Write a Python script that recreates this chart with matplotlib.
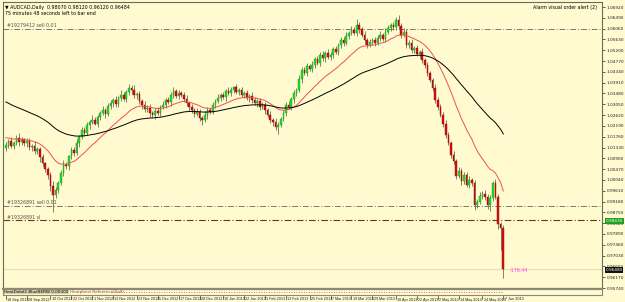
import numpy as np
import matplotlib.pyplot as plt

# AUDCAD daily closes
closes = [
    1.0144, 1.0160, 1.0138, 1.0152, 1.0171, 1.0155, 1.0166, 1.0149, 1.0158, 1.0135,
    1.0141, 1.0118, 1.0126, 1.0095, 1.0070, 1.0048, 1.0025, 0.9978, 0.9946, 0.9962,
    0.9990, 1.0032, 1.0065, 1.0058, 1.0098, 1.0124, 1.0112, 1.0150, 1.0176, 1.0204,
    1.0190, 1.0222, 1.0236, 1.0244, 1.0228, 1.0255, 1.0270, 1.0283, 1.0266, 1.0298,
    1.0311, 1.0323, 1.0305, 1.0330, 1.0343, 1.0328, 1.0352, 1.0371, 1.0363, 1.0340,
    1.0346, 1.0318, 1.0303, 1.0285, 1.0292, 1.0270, 1.0264, 1.0280, 1.0271, 1.0295,
    1.0303, 1.0322, 1.0314, 1.0343, 1.0356, 1.0338, 1.0350, 1.0343, 1.0327, 1.0309,
    1.0296, 1.0283, 1.0268, 1.0275, 1.0252, 1.0244, 1.0261, 1.0284, 1.0276, 1.0303,
    1.0318, 1.0330, 1.0343, 1.0335, 1.0358, 1.0349, 1.0363, 1.0372, 1.0355, 1.0361,
    1.0343, 1.0350, 1.0331, 1.0338, 1.0323, 1.0310, 1.0318, 1.0296, 1.0303, 1.0281,
    1.0262, 1.0244, 1.0236, 1.0215, 1.0224, 1.0248, 1.0271, 1.0303, 1.0296, 1.0325,
    1.0348, 1.0363, 1.0405, 1.0442, 1.0431, 1.0458, 1.0447, 1.0462, 1.0484, 1.0471,
    1.0502, 1.0489, 1.0511, 1.0494, 1.0502, 1.0523, 1.0515, 1.0540, 1.0561, 1.0548,
    1.0577, 1.0590, 1.0601, 1.0588, 1.0621, 1.0603, 1.0581, 1.0560, 1.0541, 1.0553,
    1.0561, 1.0549, 1.0570, 1.0581, 1.0566, 1.0592, 1.0608, 1.0621, 1.0612, 1.0641,
    1.0615, 1.0581, 1.0594, 1.0541, 1.0550, 1.0521, 1.0530, 1.0505, 1.0512, 1.0482,
    1.0461, 1.0428, 1.0402, 1.0371, 1.0323, 1.0296, 1.0264, 1.0228, 1.0184, 1.0151,
    1.0105, 1.0078, 1.0020, 1.0041, 0.9998, 1.0024, 0.9985, 1.0005, 0.9990, 0.9906,
    0.9918, 0.9942, 0.9950, 0.9936, 0.9905, 0.9934, 0.9993, 0.9938, 0.9827, 0.9812,
    0.9648,
]
first_open = 1.0130
# wick lengths in pips above / below the body
wick_up = [
    12, 8, 15, 6, 10, 18, 9, 5, 14, 11, 7, 16, 10, 8, 13, 6, 9, 12, 20, 14,
    8, 11, 17, 9, 6, 13, 10, 15, 7, 12, 9, 14, 6, 18, 11, 8, 10, 16, 7, 13,
    12, 9, 15, 6, 20, 11, 8, 14, 10, 17, 9, 12, 7, 15, 10, 13, 8, 11, 16, 9,
    14, 7, 12, 10, 18, 9, 13, 8, 11, 15, 6, 12, 9, 14, 10, 8, 16, 11, 7, 13,
    10, 15, 8, 12, 9, 17, 11, 6, 14, 10, 13, 8, 12, 9, 15, 11, 7, 14, 10, 12,
    9, 16, 8, 13, 11, 7, 12, 10, 15, 9, 14, 8, 18, 11, 10, 13, 7, 16, 9, 12,
    10, 14, 8, 15, 11, 9, 13, 7, 12, 10, 16, 8, 14, 11, 22, 12, 9, 15, 10, 13,
    8, 12, 10, 14, 9, 16, 11, 8, 13, 10, 18, 12, 15, 9, 11, 14, 8, 12, 10, 16,
    9, 13, 11, 8, 15, 10, 12, 9, 14, 11, 8, 13, 10, 16, 9, 12, 11, 15, 8, 14,
    10, 12, 9, 13, 11, 10, 8, 14, 12, 9, 11,
]
wick_dn = [
    10, 14, 7, 12, 9, 16, 11, 8, 13, 10, 15, 9, 12, 18, 10, 14, 16, 20, 68, 12,
    10, 8, 14, 11, 16, 9, 12, 7, 13, 10, 12, 8, 15, 10, 7, 13, 11, 9, 14, 8,
    11, 15, 9, 12, 10, 8, 14, 11, 16, 9, 13, 10, 18, 12, 9, 14, 11, 16, 8, 12,
    10, 13, 9, 15, 11, 8, 12, 10, 14, 9, 16, 11, 13, 8, 12, 22, 10, 14, 9, 11,
    13, 8, 12, 10, 15, 9, 11, 14, 8, 12, 10, 13, 9, 16, 11, 8, 14, 12, 10, 13,
    9, 15, 18, 12, 30, 11, 8, 14, 10, 12, 13, 9, 11, 15, 10, 12, 8, 14, 11, 9,
    12, 10, 15, 8, 13, 11, 9, 14, 10, 12, 8, 13, 11, 9, 12, 16, 10, 14, 12, 9,
    11, 13, 8, 12, 10, 15, 9, 11, 13, 10, 12, 14, 9, 13, 11, 10, 12, 8, 14, 11,
    10, 12, 9, 14, 11, 13, 10, 15, 12, 9, 14, 11, 13, 10, 16, 12, 11, 14, 10, 20,
    12, 10, 13, 11, 15, 25, 12, 10, 18, 85, 36,
]

date_labels = ["18 Sep 2012", "28 Sep 2012", "10 Oct 2012", "22 Oct 2012", "1 Nov 2012",
               "13 Nov 2012", "23 Nov 2012", "5 Dec 2012", "17 Dec 2012", "28 Dec 2012",
               "10 Jan 2013", "22 Jan 2013", "1 Feb 2013", "13 Feb 2013", "25 Feb 2013",
               "7 Mar 2013", "19 Mar 2013", "29 Mar 2013", "10 Apr 2013", "22 Apr 2013",
               "2 May 2013", "14 May 2013", "24 May 2013", "7 Jun 2013"]
price_ticks = [1.0692, 1.0649, 1.0606, 1.0563, 1.0520, 1.0477, 1.0434, 1.0391, 1.0348,
               1.0305, 1.0262, 1.0219, 1.0176, 1.0133, 1.0090, 1.0047, 1.0004, 0.9961,
               0.9918, 0.9875, 0.9832, 0.9789, 0.9746, 0.9703, 0.9660, 0.9617, 0.9574]
order_sell1 = 1.0605
order_sell2 = 0.9902
order_sl = 0.9843
bid = 0.9648
profit_text = "-176.44"

closes = np.array(closes)
opens = np.concatenate([[first_open], closes[:-1]])
highs = np.maximum(opens, closes) + np.array(wick_up) * 0.0001
lows = np.minimum(opens, closes) - np.array(wick_dn) * 0.0001
n = len(closes)
x = np.arange(n)


def ema(vals, period, seed):
    k = 2.0 / (period + 1)
    out, e = [], seed
    for v in vals:
        e = e + k * (v - e)
        out.append(e)
    return np.array(out)


ma_fast = ema(closes, 20, 1.0175)
ma_slow = ema(closes, 60, 1.0320)

BG = '#fffad0'
W, H = 625, 302
Y0, Y1 = 0.95765, 1.0712
NARROW = ['Liberation Sans Narrow', 'Liberation Sans', 'DejaVu Sans']
fig = plt.figure(figsize=(W / 100, H / 100), dpi=100)
fig.patch.set_facecolor(BG)

ax = fig.add_axes([3 / W, 1 - 288 / H, 599 / W, 286 / H])
ax.set_facecolor(BG)
ax.set_xlim(-1.1, 227.7)
ax.set_ylim(Y0, Y1)

bull = closes >= opens
ax.vlines(x, lows, highs, color='#6e6e5a', lw=0.6, zorder=2)
ax.bar(x[bull], (closes - opens)[bull], bottom=opens[bull], width=0.62,
       color='#22e022', edgecolor='#169916', lw=0.3, zorder=3)
ax.bar(x[~bull], (opens - closes)[~bull], bottom=closes[~bull], width=0.62,
       color='#e01010', edgecolor='#8a0000', lw=0.3, zorder=3)

ax.plot(x, ma_fast, color='#f05050', lw=0.7, zorder=4)
ax.plot(x, ma_slow, color='#000000', lw=0.7, zorder=4)

ax.axhline(order_sell1, color='#7a7a70', lw=0.7, ls=(0, (6, 2, 1, 2)), zorder=1)
ax.axhline(order_sell2, color='#7a7a70', lw=0.7, ls=(0, (6, 2, 1, 2)), zorder=1)
ax.axhline(order_sl, color='#6b3a10', lw=0.8, ls=(0, (6, 2, 1, 2)), zorder=1)
ax.axhline(bid, color='#e8dcc0', lw=0.8, zorder=1)

fs = 3.4
ax.text(0.5, order_sell1 + 0.0007, "#19279412 sell 0.01", fontsize=fs, color='#555555')
ax.text(0.5, order_sell2 + 0.0007, "#19326891 sell 0.01", fontsize=fs, color='#555555')
ax.text(0.5, order_sl + 0.0007, "#19326891 sl", fontsize=fs, color='#555555')
ax.text(n + 1.5, bid - 0.0004, profit_text, fontsize=fs, color='#ff40ff', va='center')

ax.yaxis.tick_right()
ax.set_yticks(price_ticks)
ax.set_yticklabels([f"{p:.5f}" for p in price_ticks], fontsize=3.1)
ax.tick_params(axis='y', length=2, width=0.5, pad=1.5, colors='#222222')
ax.set_xticks([])
for s in ax.spines.values():
    s.set_color('#6b6b5a')
    s.set_linewidth(0.8)

# price boxes on the right scale
for val, col in [(order_sl, '#20a020'), (bid, '#111111')]:
    ax.text(1.006, (val - Y0) / (Y1 - Y0), f"{val:.5f}", transform=ax.transAxes,
            fontsize=3.1, color='white', va='center', ha='left',
            bbox=dict(boxstyle='square,pad=0.15', fc=col, ec='none'))

ax.text(0.004, 0.99, "\u25bc AUDCAD,Daily  0.98070 0.98120 0.96120 0.96484", transform=ax.transAxes,
        fontsize=fs, va='top')
ax.text(0.004, 0.968, "75 minutes 48 seconds left to bar end", transform=ax.transAxes,
        fontsize=fs, va='top')
ax.text(0.992, 0.99, "Alarm visual order alert (2)", transform=ax.transAxes,
        fontsize=fs, va='top', ha='right')

# thin indicator sub-window
sub = fig.add_axes([3 / W, 1 - 295 / H, 599 / W, 6 / H])
sub.set_facecolor(BG)
sub.set_xlim(ax.get_xlim())
sub.set_ylim(0, 1)
sub.plot(x[40:], np.full(n - 40, 0.5), color='#e04040', lw=0.6, ls=(0, (1, 2)))
sub.set_xticks([])
sub.set_yticks([])
for s in sub.spines.values():
    s.set_color('#8a8a78')
    s.set_linewidth(0.8)
sub.spines['top'].set_linewidth(1.6)
sub.text(0.002, 0.5, "HeatDebit1 BlueNERW 0.00300", transform=sub.transAxes,
         fontsize=3.0, va='center', color='#000000',
         bbox=dict(boxstyle='square,pad=0.1', fc='#d8d0a0', ec='none'))
sub.text(0.112, 0.5, "Heatpbest Reference(Sell)", transform=sub.transAxes,
         fontsize=3.0, va='center', color='#a04040')

# date scale
label_pos = [round(k * (n - 1) / (len(date_labels) - 1)) for k in range(len(date_labels))]
for pos, lab in zip(label_pos, date_labels):
    xf = ax.transData.transform((pos, 0))[0] / fig.bbox.width
    fig.text(xf + 0.002, 1 - 299.5 / H, lab, fontsize=2.7, family=NARROW,
             va='center', ha='left', color='#222222')
    fig.add_artist(plt.Line2D([xf, xf], [1 - 296 / H, 1 - 298.5 / H], color='#333333', lw=0.5))

fig.savefig('out.png', dpi=100, facecolor=BG)
